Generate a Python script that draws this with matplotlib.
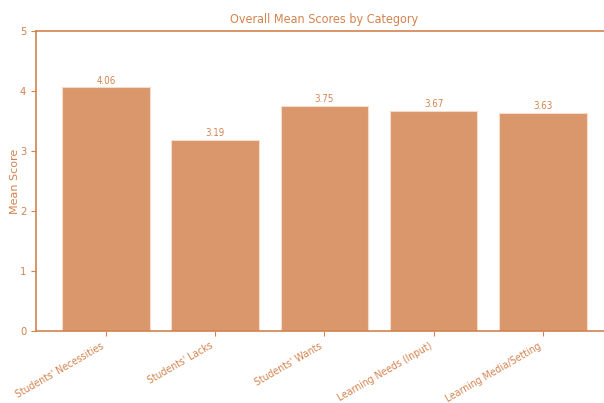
import matplotlib.pyplot as plt
import numpy as np

categories = ["Students' Necessities", "Students' Lacks", "Students' Wants",
              "Learning Needs (Input)", "Learning Media/Setting"]
scores = [4.06, 3.19, 3.75, 3.67, 3.63]

bar_color = '#D9976B'
accent = '#D4834F'

plt.rcParams['font.family'] = ['DejaVu Sans']
plt.rcParams['font.stretch'] = 'condensed'

fig = plt.figure(figsize=(6.04, 4.03), dpi=100)
# right edge runs past the canvas, as in the reference
ax = fig.add_axes([0.0596, 0.1787, 0.955, 0.7443])

x = np.arange(len(categories))
bars = ax.bar(x, scores, width=0.8, color=bar_color, edgecolor='#F6DCCB', linewidth=0.8)

for b, s in zip(bars, scores):
    ax.text(b.get_x() + b.get_width() / 2, s + 0.03, f"{s:.2f}",
            ha='center', va='bottom', fontsize=7, color=accent)

ax.set_xlim(-0.64, 4.64)
ax.set_ylim(0, 5)
ax.set_xticks(x)
ax.set_xticklabels(categories, rotation=30, ha='right', fontsize=7.5, color=accent)
ax.set_yticks(range(6))
ax.tick_params(axis='y', labelsize=8, labelcolor=accent, color=accent)
ax.tick_params(axis='x', color=accent)

ax.set_title("Overall Mean Scores by Category", fontsize=9, color=accent, pad=6)
ax.set_ylabel("Mean Score", fontsize=8, color=accent, fontstretch='normal')
ax.yaxis.set_label_coords(-0.028, 0.5)

for sp in ax.spines.values():
    sp.set_color(accent)
    sp.set_linewidth(1.2)

fig.savefig('out.png', dpi=100)
